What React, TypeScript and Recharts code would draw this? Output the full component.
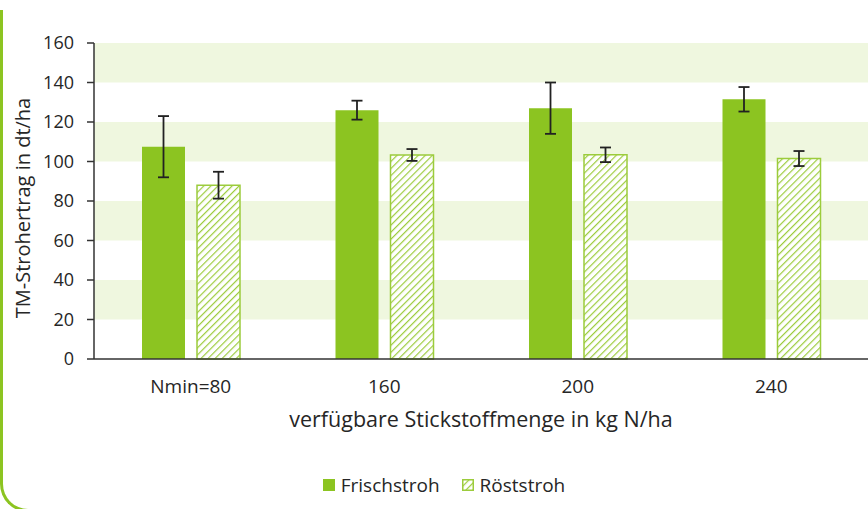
import { ComposedChart, Bar, XAxis, YAxis, ErrorBar, ReferenceArea, Legend, Label } from 'recharts';

const categories = ['Nmin=80', '160', '200', '240'];
const frischstroh = [107.5, 126, 127, 131.5];
const frischErr = [15.5, 4.8, 13, 6.2];
const roeststroh = [88, 103.3, 103.4, 101.5];
const roestErr = [6.8, 3, 3.7, 3.8];
const yTicks = [0, 20, 40, 60, 80, 100, 120, 140, 160];
const shadedBands: [number, number][] = [[20, 40], [60, 80], [100, 120], [140, 160]];

const GREEN = '#8cc421';
const HATCH = '#9ccc3c';
const BAND = '#eff7df';
const TEXT = '#262626';
const FONT = '"Open Sans", "Noto Sans", sans-serif';

const data = categories.map((name, i) => ({
  name,
  frisch: frischstroh[i],
  frischErr: frischErr[i],
  roest: roeststroh[i],
  roestErr: roestErr[i],
}));

// legend with a bordered hatch swatch for Röststroh
const renderLegend = () => (
  <div style={{ display: 'flex', justifyContent: 'center', alignItems: 'center', height: 24, paddingLeft: 20, fontFamily: FONT, fontSize: 19, color: TEXT }}>
    <svg width={12} height={12} style={{ marginRight: 6 }}>
      <rect x={0} y={0} width={12} height={12} fill={GREEN} />
    </svg>
    <span style={{ marginRight: 22 }}>Frischstroh</span>
    <svg width={12} height={12} style={{ marginRight: 6 }}>
      <rect x={0.75} y={0.75} width={10.5} height={10.5} fill="url(#hatch)" stroke={HATCH} strokeWidth={1.5} />
    </svg>
    <span>Röststroh</span>
  </div>
);

// rotated y-axis title, sitting a bit below the plot centre like the original
const renderYTitle = ({ viewBox }: any) => {
  const cy = viewBox.y + viewBox.height / 2 + 7;
  return (
    <text x={22} y={cy} transform={`rotate(-90, 22, ${cy})`} textAnchor="middle" dominantBaseline="central"
      fill={TEXT} fontSize={20} fontFamily={FONT}>
      TM-Strohertrag in dt/ha
    </text>
  );
};

const App = () => {
  return (
    <div style={{ position: 'fixed', left: 0, top: 0, width: 868, height: 509, overflow: 'hidden', background: '#fff' }}>
      <svg width={0} height={0} style={{ position: 'absolute' }}>
        <defs>
          <pattern id="hatch" patternUnits="userSpaceOnUse" width={5} height={5} patternTransform="rotate(45)">
            <rect width={5} height={5} fill="#fff" />
            <line x1={0} y1={0} x2={0} y2={5} stroke={HATCH} strokeWidth={2.4} />
          </pattern>
        </defs>
      </svg>
      {/* green frame on the left */}
      <div style={{
        position: 'absolute', left: 0, top: 10, width: 80, height: 499,
        borderLeft: `3px solid ${GREEN}`, borderBottom: `3px solid ${GREEN}`,
        borderBottomLeftRadius: 28,
      }} />
      <ComposedChart
        width={868}
        height={509}
        data={data}
        margin={{ top: 43, right: 0, bottom: 58, left: 0 }}
        barSize={43}
        barGap={12}
        style={{ fontFamily: FONT }}
      >
        {shadedBands.map(([y1, y2]) => (
          <ReferenceArea key={y1} y1={y1} y2={y2} fill={BAND} fillOpacity={1} stroke="none" ifOverflow="visible" />
        ))}
        <XAxis
          dataKey="name"
          height={68}
          tickLine={false}
          tickMargin={15}
          axisLine={{ stroke: '#333', strokeWidth: 1.5 }}
          tick={{ fill: TEXT, fontSize: 19 }}
        >
          <Label value="verfügbare Stickstoffmenge in kg N/ha" position="insideBottom" offset={0} fill={TEXT} fontSize={21.5} />
        </XAxis>
        <YAxis
          width={94}
          domain={[0, 160]}
          ticks={yTicks}
          interval={0}
          tickSize={7}
          tickMargin={13}
          axisLine={{ stroke: '#333', strokeWidth: 1.5 }}
          tickLine={{ stroke: '#333', strokeWidth: 1.5 }}
          tick={{ fill: TEXT, fontSize: 18 }}
        >
          <Label content={renderYTitle} position="insideLeft" />
        </YAxis>
        <Bar dataKey="frisch" name="Frischstroh" fill={GREEN} isAnimationActive={false}>
          <ErrorBar dataKey="frischErr" width={5.5} stroke="#222" strokeWidth={1.8} />
        </Bar>
        <Bar dataKey="roest" name="Röststroh" fill="url(#hatch)" stroke={HATCH} strokeWidth={1.5} isAnimationActive={false}>
          <ErrorBar dataKey="roestErr" width={5.5} stroke="#222" strokeWidth={1.8} />
        </Bar>
        <Legend
          verticalAlign="bottom"
          align="center"
          content={renderLegend}
          wrapperStyle={{ bottom: 12, height: 24 }}
        />
      </ComposedChart>
    </div>
  );
};

export default App;
